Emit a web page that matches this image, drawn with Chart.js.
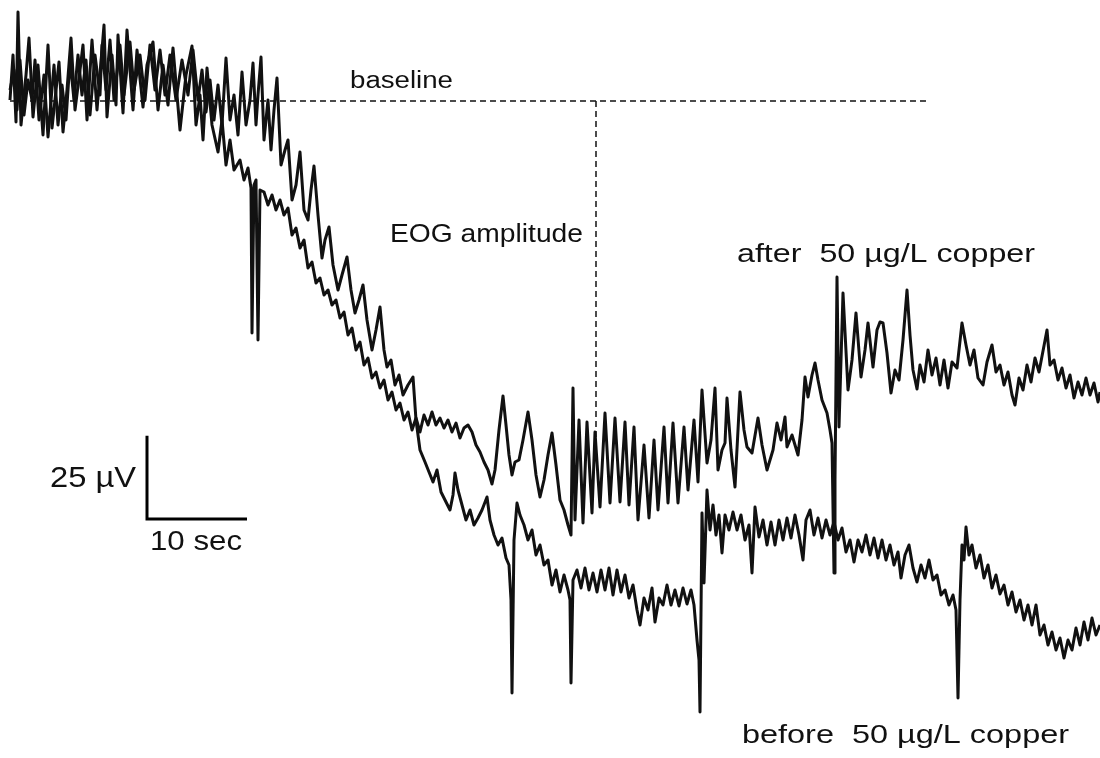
<!DOCTYPE html>
<html lang="en">
<head>
<meta charset="UTF-8">
<title>EOG before / after copper</title>
<script src="https://cdn.jsdelivr.net/npm/chart.js"></script>
<style>
    body { margin: 0; background: #fff; }
    #wrap { width: 1100px; height: 758px; }
</style>
</head>
<body>
<div id="wrap"><canvas id="eogCanvas" width="1100" height="758"></canvas></div>
<script>
// trace "after 50 ug/L copper": time (s) and potential (uV, 0 = baseline)
const afterTime = [
    1.0, 1.3, 1.6, 1.8, 2.1, 2.6, 2.9, 3.3, 3.8, 4.3, 4.8, 5.2, 5.9, 6.3, 6.7, 7.1, 7.5, 8.0, 8.3, 8.7,
    9.2, 9.7, 10.4, 10.7, 11.2, 11.6, 11.8, 12.3, 12.7, 13.3, 13.7, 14.3, 14.7, 15.3, 15.8, 16.3, 16.8, 17.3, 18.0, 18.6,
    19.2, 19.6, 20.0, 20.3, 20.7, 21.2, 21.8, 22.2, 22.6, 23.0, 23.4, 24.0, 24.4, 24.8, 25.1, 25.2, 25.4, 25.6, 25.8, 26.0,
    26.4, 26.8, 27.2, 27.6, 28.0, 28.4, 28.8, 29.2, 29.6, 30.0, 30.4, 30.8, 31.2, 31.6, 32.0, 32.4, 32.8, 33.2, 33.6, 34.0,
    34.4, 34.8, 35.2, 35.6, 36.0, 36.4, 36.8, 37.2, 37.6, 38.0, 38.4, 38.8, 39.2, 39.6, 40.0, 40.4, 40.8, 41.2, 41.6, 42.0,
    42.4, 42.8, 43.2, 43.6, 44.0, 44.4, 44.8, 45.2, 45.6, 46.0, 46.4, 46.8, 47.2, 47.6, 48.0, 48.4, 48.8, 49.2, 49.5, 49.9,
    50.3, 50.6, 50.9, 51.2, 51.5, 51.9, 52.3, 52.8, 53.2, 53.6, 54.0, 54.4, 54.8, 55.2, 55.6, 56.0, 56.4, 56.8, 57.1, 57.3,
    57.5, 57.9, 58.3, 58.7, 59.2, 59.5, 60.0, 60.5, 61.0, 61.5, 62.0, 62.5, 62.9, 63.4, 63.8, 64.4, 64.9, 65.4, 65.8, 66.4,
    66.8, 67.3, 67.8, 68.4, 68.8, 69.4, 69.8, 70.2, 70.7, 71.1, 71.5, 71.8, 72.2, 72.5, 72.7, 73.1, 73.5, 74.0, 74.4, 74.7,
    75.2, 75.8, 76.2, 76.7, 77.3, 77.7, 78.1, 78.5, 78.7, 79.2, 79.8, 80.2, 80.5, 80.8, 81.2, 81.5, 81.8, 82.2, 82.7, 83.0,
    83.2, 83.4, 83.5, 83.7, 83.9, 84.3, 84.8, 85.2, 85.6, 86.1, 86.5, 86.8, 87.3, 87.7, 88.0, 88.3, 88.7, 89.1, 89.5, 89.9,
    90.3, 90.7, 91.0, 91.3, 91.7, 92.0, 92.4, 92.8, 93.2, 93.6, 94.0, 94.4, 94.8, 95.2, 95.7, 96.2, 96.6, 97.0, 97.4, 97.8,
    98.3, 98.7, 99.2, 99.6, 100.0, 100.4, 100.8, 101.2, 101.5, 101.9, 102.3, 102.7, 103.1, 103.5, 103.9, 104.3, 104.7, 105.0, 105.4, 105.8,
    106.2, 106.6, 107.0, 107.4, 107.8, 108.2, 108.6, 109.0, 109.4, 109.8, 110.0
];
const afterVolt = [
    0.3, 13.8, -6.3, 26.7, -7.2, 7.8, 18.9, -4.8, 10.8, -10.2, 16.8, -8.1, 11.7, -9.3, 3.3, 18.9, -2.7, 9.3, 16.8, -5.7,
    18.3, -2.7, 22.8, -4.8, 13.8, -1.2, 19.8, -3.6, 21.3, -2.7, 15.3, -1.8, 10.8, 17.7, -2.7, 10.8, -1.2, 15.9, -8.7, 7.8,
    16.5, -7.2, 1.8, -11.7, 9.9, -7.2, -15.3, -5.7, -19.2, -11.7, -20.7, -17.7, -23.7, -20.1, -26.1, -69.6, -25.2, -23.7, -71.7, -26.7,
    -27.3, -31.2, -28.2, -32.7, -29.7, -34.2, -32.1, -40.2, -38.1, -44.1, -41.7, -50.1, -48.3, -54.6, -53.1, -58.2, -56.7, -61.2, -59.7, -65.1,
    -63.3, -70.2, -68.1, -74.7, -72.3, -79.2, -77.1, -83.1, -81.3, -86.1, -83.7, -89.7, -87.3, -92.7, -90.6, -95.7, -93.3, -98.7, -95.1, -99.3,
    -94.2, -97.2, -93.3, -97.2, -95.1, -98.1, -95.7, -99.3, -96.6, -101.1, -98.1, -97.2, -99.3, -103.2, -105.3, -108.3, -110.7, -114.9, -110.7, -98.7,
    -88.5, -97.2, -106.2, -112.2, -108.3, -107.7, -101.7, -93.3, -101.7, -112.2, -118.8, -113.7, -106.2, -99.6, -109.2, -119.7, -122.7, -127.2, -130.2, -86.1,
    -125.7, -95.7, -126.6, -96.3, -123.6, -99.3, -121.8, -93.6, -120.6, -95.1, -120.3, -96.3, -121.2, -97.8, -125.7, -103.2, -125.1, -101.7, -122.7, -97.8,
    -120.6, -96.6, -120.6, -97.8, -116.7, -95.7, -114.3, -86.7, -108.6, -101.7, -86.1, -110.7, -104.7, -102.6, -89.1, -104.7, -115.8, -87.3, -98.7, -103.8,
    -105.6, -95.1, -103.2, -110.7, -104.7, -96.6, -101.7, -94.8, -103.8, -100.2, -106.2, -95.7, -82.8, -88.8, -82.2, -78.6, -83.7, -89.7, -93.6, -98.7,
    -102.6, -141.6, -113.7, -52.8, -97.8, -57.6, -86.7, -77.7, -63.6, -82.8, -74.7, -66.6, -79.8, -68.7, -66.3, -66.6, -75.6, -87.6, -80.7, -83.7,
    -71.7, -56.7, -70.2, -80.7, -86.4, -79.2, -84.3, -74.7, -82.2, -77.1, -85.2, -77.7, -86.1, -78.3, -80.1, -66.6, -73.2, -79.2, -74.7, -83.1,
    -85.2, -78.3, -73.2, -81.3, -79.2, -85.2, -81.3, -88.2, -91.2, -83.1, -86.7, -79.2, -84.3, -77.1, -81.3, -75.0, -68.7, -79.2, -77.7, -83.7,
    -80.1, -86.1, -82.2, -89.1, -84.3, -88.2, -83.1, -88.2, -84.6, -90.3, -87.3
];

// trace "before 50 ug/L copper"
const beforeTime = [
    1.0, 1.4, 1.7, 2.0, 2.4, 2.8, 3.2, 3.5, 3.9, 4.4, 4.8, 5.4, 5.8, 6.2, 6.6, 7.0, 7.4, 7.8, 8.2, 8.6,
    9.0, 9.5, 10.0, 10.2, 10.6, 11.0, 11.4, 12.0, 12.4, 13.0, 13.4, 14.0, 14.5, 15.0, 15.5, 16.0, 16.5, 17.0, 17.6, 18.2,
    18.8, 19.3, 19.8, 20.2, 20.6, 21.0, 21.4, 21.8, 22.2, 22.6, 23.0, 23.4, 23.8, 24.2, 24.6, 25.0, 25.3, 25.6, 25.8, 26.1,
    26.4, 26.8, 27.1, 27.4, 27.7, 28.1, 28.5, 28.8, 29.2, 29.6, 30.0, 30.4, 30.8, 31.1, 31.4, 31.8, 32.2, 32.5, 32.9, 33.3,
    33.8, 34.2, 34.7, 35.1, 35.5, 35.9, 36.3, 36.7, 37.2, 37.6, 38.0, 38.4, 38.7, 39.1, 39.5, 39.9, 40.3, 40.8, 41.3, 41.6,
    42.0, 42.5, 42.9, 43.3, 43.7, 44.1, 44.5, 45.0, 45.3, 45.5, 45.8, 46.2, 46.6, 47.0, 47.4, 47.8, 48.2, 48.7, 49.0, 49.4,
    49.8, 50.2, 50.6, 50.9, 51.1, 51.2, 51.4, 51.7, 52.0, 52.4, 52.8, 53.2, 53.6, 54.0, 54.4, 54.8, 55.2, 55.6, 56.0, 56.4,
    56.8, 57.0, 57.1, 57.3, 57.7, 58.1, 58.5, 58.9, 59.3, 59.7, 60.1, 60.5, 60.9, 61.3, 61.7, 62.1, 62.5, 62.9, 63.3, 63.7,
    64.0, 64.4, 64.8, 65.2, 65.5, 65.9, 66.3, 66.7, 67.1, 67.5, 67.9, 68.3, 68.7, 69.1, 69.4, 69.7, 69.9, 70.0, 70.2, 70.4,
    70.7, 71.0, 71.3, 71.6, 71.9, 72.2, 72.5, 72.9, 73.3, 73.7, 74.1, 74.5, 74.9, 75.2, 75.5, 75.9, 76.3, 76.7, 77.1, 77.5,
    77.9, 78.3, 78.7, 79.1, 79.5, 79.9, 80.3, 80.6, 81.0, 81.4, 81.8, 82.2, 82.6, 83.0, 83.4, 83.8, 84.2, 84.6, 85.0, 85.4,
    85.8, 86.2, 86.6, 87.0, 87.4, 87.8, 88.2, 88.6, 89.0, 89.4, 89.8, 90.1, 90.5, 90.9, 91.3, 91.7, 92.1, 92.5, 92.9, 93.3,
    93.7, 94.1, 94.5, 94.9, 95.3, 95.6, 95.8, 96.0, 96.2, 96.4, 96.6, 96.9, 97.2, 97.6, 98.0, 98.4, 98.8, 99.2, 99.6, 100.0,
    100.4, 100.8, 101.2, 101.6, 102.0, 102.4, 102.8, 103.2, 103.6, 104.0, 104.4, 104.8, 105.2, 105.6, 106.0, 106.4, 106.8, 107.2, 107.6, 108.0,
    108.4, 108.8, 109.2, 109.6, 110.0
];
const beforeVolt = [
    3.3, 9.3, -2.7, 12.3, -4.2, 6.3, 0.3, 12.3, -5.7, 7.8, -10.8, 10.8, -7.2, 4.8, -5.7, 12.3, 0.3, 13.8, 1.8, 12.3,
    -4.2, 13.8, 1.8, 16.8, 3.3, 18.3, 0.3, 16.8, 1.8, 17.7, 3.3, 13.8, 0.3, 16.8, 3.3, 15.3, 1.8, 13.8, 0.3, 12.3,
    1.8, 15.3, 0.3, 9.3, -3.3, 6.3, -5.7, 4.8, -7.2, 12.9, -5.7, 1.8, -10.2, 8.7, -7.2, 0.3, 11.4, -7.2, 1.8, 13.2,
    -11.7, 0.3, -14.7, -2.7, 6.9, -19.2, -14.7, -11.7, -29.7, -25.2, -15.3, -32.7, -35.7, -26.7, -19.5, -34.2, -47.1, -41.7, -37.8, -49.2,
    -56.7, -52.2, -46.8, -56.7, -63.6, -59.7, -55.2, -65.7, -74.7, -68.7, -61.8, -74.7, -79.8, -77.7, -85.2, -82.2, -88.2, -85.2, -82.8, -95.7,
    -104.7, -108.3, -111.3, -114.3, -110.7, -117.3, -119.7, -122.7, -118.2, -111.6, -116.7, -121.2, -125.7, -122.7, -127.2, -125.1, -122.7, -118.8, -125.7, -130.2,
    -133.2, -131.1, -137.1, -139.2, -149.7, -177.6, -131.7, -120.6, -124.2, -127.2, -131.7, -128.7, -136.2, -133.2, -139.2, -137.7, -145.2, -140.7, -147.3, -142.2,
    -146.7, -149.7, -174.6, -143.7, -140.7, -146.1, -140.1, -146.7, -141.6, -147.3, -140.7, -146.7, -140.1, -148.2, -140.7, -147.3, -142.2, -149.1, -145.2, -152.7,
    -157.2, -149.1, -152.7, -146.1, -156.3, -149.1, -151.2, -145.2, -151.2, -146.7, -151.5, -146.1, -150.9, -146.7, -151.2, -161.7, -167.7, -183.3, -123.6, -144.6,
    -116.7, -128.7, -121.2, -130.2, -124.2, -135.6, -124.2, -128.7, -123.3, -128.7, -124.2, -131.7, -127.2, -141.6, -121.8, -130.8, -125.7, -133.2, -126.3, -133.2,
    -125.7, -131.7, -125.1, -131.1, -124.2, -130.2, -137.7, -125.7, -122.7, -130.2, -125.1, -131.1, -125.7, -130.2, -126.3, -131.7, -128.1, -135.3, -131.7, -138.3,
    -131.7, -135.3, -130.2, -136.2, -131.1, -137.1, -131.7, -137.7, -133.2, -139.2, -135.3, -143.1, -136.2, -133.2, -140.1, -144.3, -139.2, -143.1, -137.7, -143.7,
    -142.2, -148.2, -146.7, -151.2, -148.2, -152.7, -179.1, -149.7, -133.2, -137.7, -127.8, -136.2, -133.2, -140.1, -136.2, -143.1, -139.2, -146.1, -142.2, -147.9,
    -145.2, -151.2, -147.3, -153.3, -149.7, -155.7, -151.2, -157.2, -151.2, -160.2, -157.2, -163.2, -159.3, -164.7, -161.1, -167.1, -161.7, -164.7, -158.1, -163.2,
    -156.3, -161.7, -155.1, -160.2, -157.2
];

// baseline and amplitude marker (dashed)
const baselineTime = [1.0, 93.0];
const baselineVolt = [0, 0];
const amplitudeTime = [59.6, 59.6];
const amplitudeVolt = [0, -101.7];

// scale bar: 25 uV by 10 sec
const barTime = [14.7, 14.7, 24.7];
const barVolt = [-100.4, -125.4, -125.4];

// text: [text, left (s), baseline (uV), font px, width (s)]
const labels = [
    ['baseline', 35.0, 3.9, 23, 10.3],
    ['EOG amplitude', 39.0, -42.3, 25, 19.3],
    ['after  50 µg/L copper', 73.7, -48.3, 26, 29.8],
    ['before  50 µg/L copper', 74.2, -192.6, 26, 32.7],
    ['25 µV', 5.0, -115.8, 30, 8.6],
    ['10 sec', 15.0, -134.7, 28, 9.2]
];

function pairs(ts, vs) {
    return ts.map((t, i) => ({ x: t, y: vs[i] }));
}

const textPlugin = {
    id: 'texts',
    beforeDraw(chart) {
        const c = chart.ctx;
        c.save();
        c.fillStyle = '#fff';
        c.fillRect(0, 0, chart.width, chart.height);
        c.restore();
    },
    afterDraw(chart) {
        const c = chart.ctx;
        const xs = chart.scales.x, ys = chart.scales.y;
        c.save();
        c.fillStyle = '#111';
        c.textBaseline = 'alphabetic';
        labels.forEach(l => {
            c.font = l[3] + 'px "Liberation Sans", Arial, sans-serif';
            const px = xs.getPixelForValue(l[1]);
            const py = ys.getPixelForValue(l[2]);
            const want = xs.getPixelForValue(l[1] + l[4]) - px;
            const got = c.measureText(l[0]).width;
            c.save();
            c.translate(px, py);
            c.scale(want / got, 1);
            c.fillText(l[0], 0, 0);
            c.restore();
        });
        c.restore();
    }
};

const traceStyle = {
    borderColor: '#111',
    borderWidth: 3,
    borderJoinStyle: 'round',
    pointRadius: 0,
    tension: 0,
    fill: false
};

new Chart(document.getElementById('eogCanvas').getContext('2d'), {
    type: 'line',
    data: {
        datasets: [
            Object.assign({ label: 'after 50 µg/L copper', data: pairs(afterTime, afterVolt) }, traceStyle),
            Object.assign({ label: 'before 50 µg/L copper', data: pairs(beforeTime, beforeVolt) }, traceStyle),
            { label: 'baseline', data: pairs(baselineTime, baselineVolt), borderColor: '#111', borderWidth: 1.5, borderDash: [6, 4], pointRadius: 0 },
            { label: 'EOG amplitude', data: pairs(amplitudeTime, amplitudeVolt), borderColor: '#111', borderWidth: 1.5, borderDash: [6, 4], pointRadius: 0 },
            { label: 'scale', data: pairs(barTime, barVolt), borderColor: '#000', borderWidth: 3, pointRadius: 0 }
        ]
    },
    options: {
        responsive: false,
        animation: false,
        devicePixelRatio: 1,
        layout: { padding: 0 },
        plugins: { legend: { display: false }, tooltip: { enabled: false } },
        scales: {
            x: { type: 'linear', display: false, min: 0, max: 110 },
            y: { type: 'linear', display: false, min: -197.1, max: 30.3 }
        }
    },
    plugins: [textPlugin]
});
</script>
</body>
</html>
